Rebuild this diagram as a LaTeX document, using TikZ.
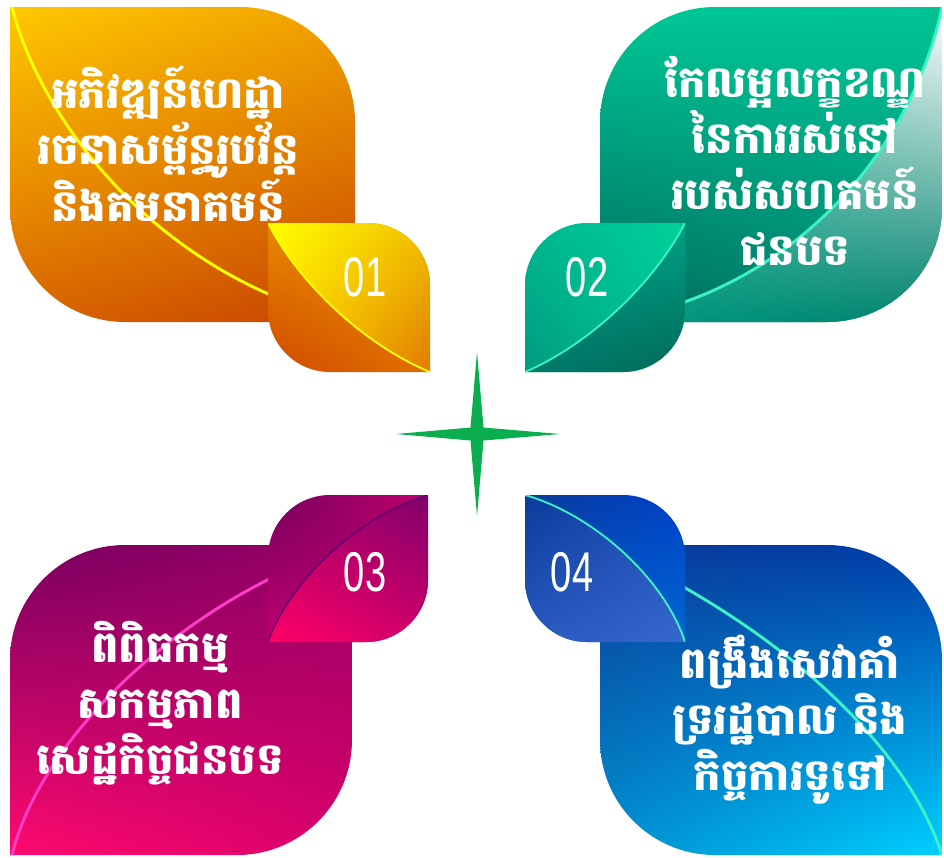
\documentclass[tikz,border=0pt]{standalone}
\usepackage{fontspec}
\usepackage{tikz}
\usetikzlibrary{shadings}
\newfontfamily\khmerfont[Script=Khmer]{Battambang}
\newfontfamily\numfont[FakeStretch=0.68]{Liberation Sans}

\definecolor{starGreen}{HTML}{0BAE4E}
\definecolor{veinYellow}{HTML}{FFFF00}
\definecolor{veinAqua}{HTML}{3CF2C4}
\definecolor{veinPink}{HTML}{FF3CC8}
\definecolor{veinPurple}{HTML}{5A0070}
% orange leaf
\definecolor{oraA}{HTML}{FFC800}\definecolor{oraB}{HTML}{F0A000}
\definecolor{oraC}{HTML}{D86400}\definecolor{oraD}{HTML}{C84400}
\definecolor{oraE}{HTML}{E88A00}\definecolor{oraF}{HTML}{E89000}
\definecolor{oraG}{HTML}{D04800}\definecolor{oraH}{HTML}{E07000}
\definecolor{oraI}{HTML}{F2C000}\definecolor{oraJ}{HTML}{FFD800}
\definecolor{oraK}{HTML}{E07A00}
% teal leaf
\definecolor{tealA}{HTML}{00C896}\definecolor{tealB}{HTML}{00C494}
\definecolor{tealC}{HTML}{00685A}\definecolor{tealD}{HTML}{008C76}
\definecolor{tealE}{HTML}{60DCBC}\definecolor{tealF}{HTML}{009C80}
\definecolor{tealG}{HTML}{00806C}\definecolor{tealH}{HTML}{00B890}
\definecolor{tealI}{HTML}{00D09A}\definecolor{tealJ}{HTML}{009A7E}
\definecolor{tealK}{HTML}{00A888}\definecolor{tealL}{HTML}{00A084}
\definecolor{tealM}{HTML}{007A6A}\definecolor{tealN}{HTML}{006A5A}
% purple leaf
\definecolor{purA}{HTML}{760060}\definecolor{purB}{HTML}{9A0066}
\definecolor{purC}{HTML}{FF0A6E}\definecolor{purD}{HTML}{D8006A}
\definecolor{purE}{HTML}{C0006A}\definecolor{purF}{HTML}{C00070}
\definecolor{purG}{HTML}{A00068}\definecolor{purH}{HTML}{B0006A}
\definecolor{purI}{HTML}{80006A}\definecolor{purJ}{HTML}{FF0066}
\definecolor{purK}{HTML}{D0006A}
% blue leaf
\definecolor{bluA}{HTML}{0A3C9A}\definecolor{bluB}{HTML}{003CA8}
\definecolor{bluC}{HTML}{0090D0}\definecolor{bluD}{HTML}{00D0FF}
\definecolor{bluE}{HTML}{0040C8}\definecolor{bluF}{HTML}{0060D0}
\definecolor{bluG}{HTML}{0068D0}\definecolor{bluH}{HTML}{2050B8}
\definecolor{bluI}{HTML}{2A58C0}\definecolor{bluJ}{HTML}{3668CC}

\tikzset{
  leaftext/.style={text=white, align=center, inner sep=0pt,
    font=\khmerfont\bfseries\fontsize{32.5}{42}\selectfont},
  leafnum/.style={text=white, inner sep=0pt,
    font=\numfont\fontsize{42}{42}\selectfont},
  vein/.style={line width=2.2pt},
}

\begin{document}
\begin{tikzpicture}[x=0.75pt,y=0.75pt,yscale=-1,xscale=1]
\useasboundingbox (0,0) rectangle (944,857);

%Shape: Leaf big 1
\begin{scope}
\clip (10,7) -- (240,7) .. controls (303.5,7) and (355,58.5) .. (355,122) -- (355,322) -- (125,322) .. controls (61.5,322) and (10,270.5) .. (10,207) -- cycle;
\shade[upper left=oraA, upper right=oraB, lower left=oraC, lower right=oraD] (10,7) rectangle (355,322);
\draw[vein, veinYellow] (12,7) .. controls (40,120) and (160,280) .. (355,322);
\end{scope}
%Shape: Leaf big 2
\begin{scope}
\clip (600,322) -- (600,122) .. controls (600,58.5) and (651.5,7) .. (715,7) -- (942,7) -- (942,207) .. controls (942,270.5) and (890.5,322) .. (827,322) -- cycle;
\shade[upper left=tealA, upper right=tealB, lower left=tealC, lower right=tealD] (600,7) rectangle (942,322);
\shade[upper left=tealE, upper right=white, lower left=tealF, lower right=tealG] (600,322) .. controls (780,300) and (910,160) .. (942,7) -- (942,322) -- cycle;
\draw[vein, veinAqua] (600,322) .. controls (780,300) and (910,160) .. (942,7);
\end{scope}
%Shape: Leaf big 3
\begin{scope}
\clip (10,855) -- (10,660) .. controls (10,596.5) and (61.5,545) .. (125,545) -- (352,545) -- (352,740) .. controls (352,803.5) and (300.5,855) .. (237,855) -- cycle;
\shade[upper left=purA, upper right=purB, lower left=purC, lower right=purD] (10,545) rectangle (352,855);
\draw[vein, veinPink] (12,855) .. controls (40,740) and (180,600) .. (352,545);
\end{scope}
%Shape: Leaf big 4
\begin{scope}
\clip (600,545) -- (827,545) .. controls (890.5,545) and (942,596.5) .. (942,660) -- (942,855) -- (715,855) .. controls (651.5,855) and (600,803.5) .. (600,740) -- cycle;
\shade[upper left=bluA, upper right=bluB, lower left=bluC, lower right=bluD] (600,545) rectangle (942,855);
\draw[vein, veinAqua] (600,545) .. controls (770,620) and (905,740) .. (942,855);
\end{scope}

%Shape: Leaf small 01
\begin{scope}
\clip (268,223) -- (368,223) .. controls (402.2,223) and (430,250.8) .. (430,285) -- (430,372) -- (330,372) .. controls (295.8,372) and (268,344.2) .. (268,310) -- cycle;
\shade[upper left=oraE, upper right=oraF, lower left=oraG, lower right=oraH] (268,223) rectangle (430,372);
\shade[upper left=veinYellow, upper right=oraI, lower left=oraJ, lower right=oraK] (268,223) .. controls (300,285) and (365,345) .. (430,372) -- (430,223) -- cycle;
\draw[line width=1.4pt, veinYellow] (268,223) .. controls (300,285) and (365,345) .. (430,372);
\end{scope}
%Shape: Leaf small 02
\begin{scope}
\clip (525,372) -- (525,285) .. controls (525,250.8) and (552.8,223) .. (587,223) -- (685,223) -- (685,310) .. controls (685,344.2) and (657.2,372) .. (623,372) -- cycle;
\shade[upper left=tealH, upper right=tealI, lower left=tealJ, lower right=tealA] (525,223) rectangle (685,372);
\shade[upper left=tealK, upper right=tealL, lower left=tealM, lower right=tealN] (525,372) .. controls (588,345) and (653,285) .. (685,223) -- (685,372) -- cycle;
\draw[line width=1.4pt, veinAqua] (525,372) .. controls (588,345) and (653,285) .. (685,223);
\end{scope}
%Shape: Leaf small 03
\begin{scope}
\clip (268,642) -- (268,557) .. controls (268,522.8) and (295.8,495) .. (330,495) -- (428,495) -- (428,580) .. controls (428,614.2) and (400.2,642) .. (366,642) -- cycle;
\shade[upper left=purA, upper right=purE, lower left=purF, lower right=purG] (268,495) rectangle (428,642);
\shade[upper left=purH, upper right=purI, lower left=purJ, lower right=purK] (268,642) .. controls (290,580) and (360,515) .. (428,495) -- (428,642) -- cycle;
\draw[line width=1pt, veinPurple] (268,642) .. controls (290,580) and (360,515) .. (428,495);
\end{scope}
%Shape: Leaf small 04
\begin{scope}
\clip (525,495) -- (623,495) .. controls (657.2,495) and (685,522.8) .. (685,557) -- (685,642) -- (587,642) .. controls (552.8,642) and (525,614.2) .. (525,580) -- cycle;
\shade[upper left=bluA, upper right=bluE, lower left=bluF, lower right=bluG] (525,495) rectangle (685,642);
\shade[upper left=bluA, upper right=bluH, lower left=bluI, lower right=bluJ] (525,495) .. controls (595,515) and (665,580) .. (685,642) -- (525,642) -- cycle;
\draw[line width=1.4pt, veinAqua] (525,495) .. controls (595,515) and (665,580) .. (685,642);
\end{scope}

%Shape: Star
\fill[starGreen] (477,352) -- (483.5,427.5) -- (560,434) -- (483.5,440.5) -- (477,516) -- (470.5,440.5) -- (396,434) -- (470.5,427.5) -- cycle;

% Text Node
\node[leaftext] (t1) at (168,144) {អភិវឌ្ឍន៍ហេដ្ឋា\\រចនាសម្ព័ន្ធរូបវ័ន្ត\\និងគមនាគមន៍};
% Text Node
\node[leaftext] (t2) at (795,161) {កែលម្អលក្ខខណ្ឌ\\នៃការរស់នៅ\\របស់សហគមន៍\\ជនបទ};
% Text Node
\node[leaftext] (t3) at (160,703) {ពិពិធកម្ម\\សកម្មភាព\\សេដ្ឋកិច្ចជនបទ};
% Text Node
\node[leaftext] (t4) at (790,720) {ពង្រឹងសេវាគាំ\\ទ្ររដ្ឋបាល និង\\កិច្ចការទូទៅ};

% Number Node
\node[leafnum] (n1) at (365,277) {01};
% Number Node
\node[leafnum] (n2) at (587,277) {02};
% Number Node
\node[leafnum] (n3) at (365,572) {03};
% Number Node
\node[leafnum] (n4) at (572,572) {04};

\end{tikzpicture}
\end{document}
